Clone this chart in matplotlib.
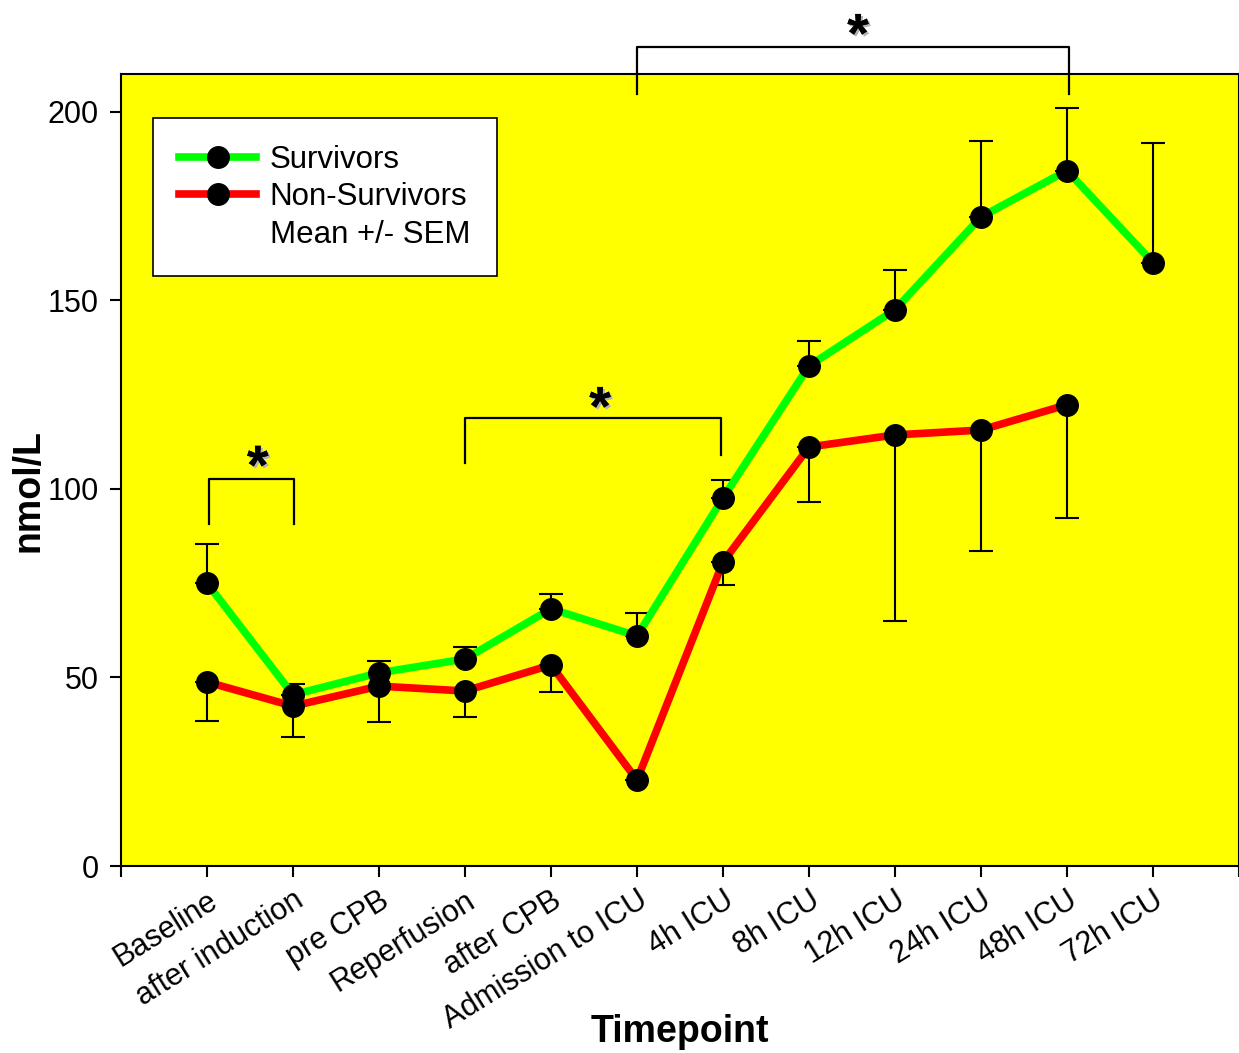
import numpy as np
import matplotlib
matplotlib.use('Agg')
import matplotlib.pyplot as plt
import matplotlib.patheffects as pe
from matplotlib.lines import Line2D

plt.rcParams['font.family'] = ['Liberation Sans', 'DejaVu Sans']

# Data
timepoints = ['Baseline', 'after induction', 'pre CPB', 'Reperfusion', 'after CPB',
              'Admission to ICU', '4h ICU', '8h ICU', '12h ICU', '24h ICU', '48h ICU', '72h ICU']

surv_mean = [75, 45.4, 51.2, 54.9, 68.2, 61, 97.6, 132.6, 147.5, 172.1, 184.4, 160]
surv_upper = [85.4, 48.3, 54.4, 58.1, 72.1, 67.1, 102.4, 139.3, 158.1, 192.3, 201, 191.8]

nonsurv_mean = [48.8, 42.4, 47.7, 46.4, 53.3, 22.8, 80.6, 111.1, 114.3, 115.6, 122.3]
nonsurv_lower = [38.5, 34.2, 38.2, 39.5, 46.2, 22.8, 74.5, 96.6, 65, 83.6, 92.3]

# significance brackets: (x_left, x_right, y_top, y_left_end, y_right_end)
brackets = [(1.02, 2.01, 102.7, 90.7, 90.7),
            (4.0, 6.98, 118.8, 106.9, 109.0),
            (6.0, 11.02, 217.2, 204.8, 204.8)]
star_pos = [(1.59, 108.5), (5.57, 124.1), (8.57, 223.0)]

x_s = np.arange(1, len(surv_mean) + 1)
x_n = np.arange(1, len(nonsurv_mean) + 1)

fig = plt.figure(figsize=(12.39, 10.53), dpi=100)
ax = fig.add_axes([121/1239, 1 - 866/1053, 1118/1239, 792/1053])
ax.set_facecolor('#FFFF00')

# error bars (one-sided)
s_err = np.array(surv_upper) - np.array(surv_mean)
n_err = np.array(nonsurv_mean) - np.array(nonsurv_lower)
ax.errorbar(x_s, surv_mean, yerr=[np.zeros_like(s_err), s_err], fmt='none',
            ecolor='black', elinewidth=1.5, capsize=8.5, capthick=1.5, zorder=2)
ax.errorbar(x_n, nonsurv_mean, yerr=[n_err, np.zeros_like(n_err)], fmt='none',
            ecolor='black', elinewidth=1.5, capsize=8.5, capthick=1.5, zorder=2)

ax.plot(x_s, surv_mean, color='#00FF00', lw=5.5, marker='o', ms=15.5,
        mfc='black', mec='black', zorder=3)
ax.plot(x_n, nonsurv_mean, color='#FF0000', lw=5.5, marker='o', ms=15.5,
        mfc='black', mec='black', zorder=4)

# brackets and stars
for xl, xr, yt, yl, yr in brackets:
    ax.plot([xl, xl, xr, xr], [yl, yt, yt, yr], color='black', lw=1.6,
            clip_on=False, zorder=5)
for sx, sy in star_pos:
    ax.text(sx, sy - 3.5, '*', fontsize=40, fontweight='bold', ha='center', va='center',
            clip_on=False, zorder=6,
            path_effects=[pe.withSimplePatchShadow(offset=(1.5, -1.5), shadow_rgbFace='0.7', alpha=1),
                          pe.Normal()])

ax.set_xlim(0, 13)
ax.set_ylim(0, 210)
ax.set_xticks(np.arange(0, 14))
ax.set_xticklabels([''] + timepoints + [''], rotation=32, ha='right',
                   rotation_mode='anchor', fontsize=22)
ax.set_yticks([0, 50, 100, 150, 200])
ax.tick_params(axis='y', labelsize=22, length=8, width=1.5, direction='out', pad=8)
ax.tick_params(axis='x', length=8, width=1.5, direction='out', pad=6)
for sp in ax.spines.values():
    sp.set_linewidth(1.5)

# axis titles placed in figure pixels
fig.text(28/1239, 1 - 491/1053, 'nmol/L', fontsize=27, fontweight='bold',
         rotation=90, ha='center', va='center')
fig.text(680/1239, 1 - 1032/1053, 'Timepoint', fontsize=27, fontweight='bold',
         ha='center', va='center')

handles = [Line2D([], [], color='#00FF00', lw=5.5, marker='o', ms=15.5, mfc='black', mec='black'),
           Line2D([], [], color='#FF0000', lw=5.5, marker='o', ms=15.5, mfc='black', mec='black'),
           Line2D([], [], color='none')]
leg = ax.legend(handles, ['Survivors', 'Non-Survivors', 'Mean +/- SEM'],
                loc='upper left', bbox_to_anchor=(0.0286, 0.944), borderaxespad=0,
                fontsize=22.5, fancybox=False, framealpha=1, edgecolor='black',
                handlelength=2.45, handletextpad=0.45, labelspacing=0.24,
                borderpad=0.84)
leg.get_frame().set_linewidth(1.2)

fig.savefig('out.png', dpi=100)
